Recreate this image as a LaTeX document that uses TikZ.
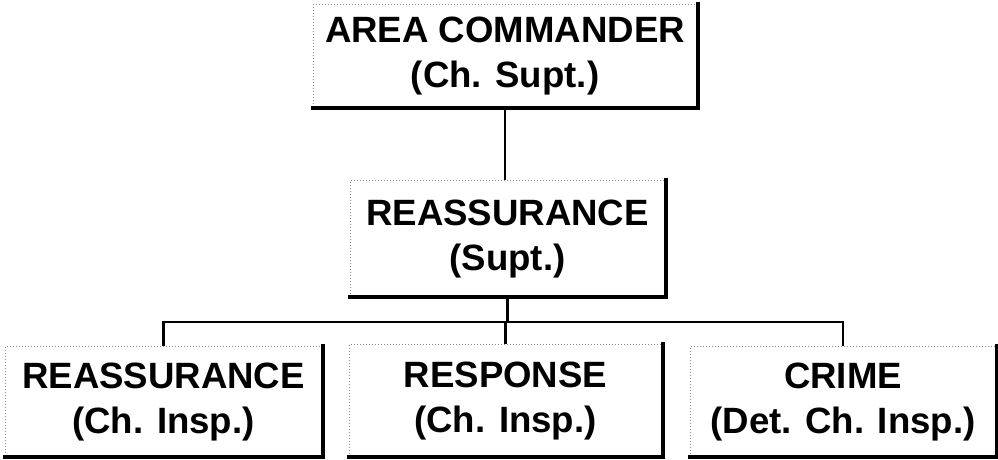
\documentclass[tikz,border=0pt]{standalone}
\usepackage{fontspec}
\setmainfont{Liberation Sans}
\usetikzlibrary{positioning}

\begin{document}
\begin{tikzpicture}[
      x=0.5pt, y=-0.5pt,
      post/.style={rectangle, draw=black!45, densely dotted, line width=0.5pt,
                   minimum width=#1, minimum height=55pt, align=center,
                   font=\fontsize{18.3}{22.5}\selectfont\bfseries, inner sep=0pt},
      post/.default=158pt,
      edge/.style={line width=1.1pt},
      shade/.style={line width=2pt, line cap=rect},
    ]
    \useasboundingbox (0,0) rectangle (998,460);

    \node[post=192pt, minimum height=51.5pt] (cmdr) at (505,56.5)
      {AREA COMMANDER\\(Ch. Supt.)};

    \node[post=157.5pt, minimum height=58pt] (reass) at (507.5,239)
      {REASSURANCE\\(Supt.)};

    \node[post=158.5pt] (insp1) at (163.5,402)
      {REASSURANCE\\(Ch. Insp.)};

    \node[post=156.5pt, minimum height=56pt] (insp2) at (505.5,401)
      {RESPONSE\\(Ch. Insp.)};

    \node[post=153pt] (insp3) at (843,402)
      {CRIME\\(Det. Ch. Insp.)};

    \coordinate (bus) at (0,322);

    \draw[edge] (cmdr.south) -- (cmdr.south |- reass.north);
    \draw[edge] (reass.south) -- (reass.south |- bus);
    \draw[edge] (insp1.north) |- (insp3.north |- bus) -- (insp3.north);
    \draw[edge] (insp2.north) -- (insp2.north |- bus);

    % heavy right and bottom edges
    \foreach \n in {cmdr,reass,insp1,insp2,insp3}
      \draw[shade] (\n.north east) -- (\n.south east) -- (\n.south west);
  \end{tikzpicture}
\end{document}
